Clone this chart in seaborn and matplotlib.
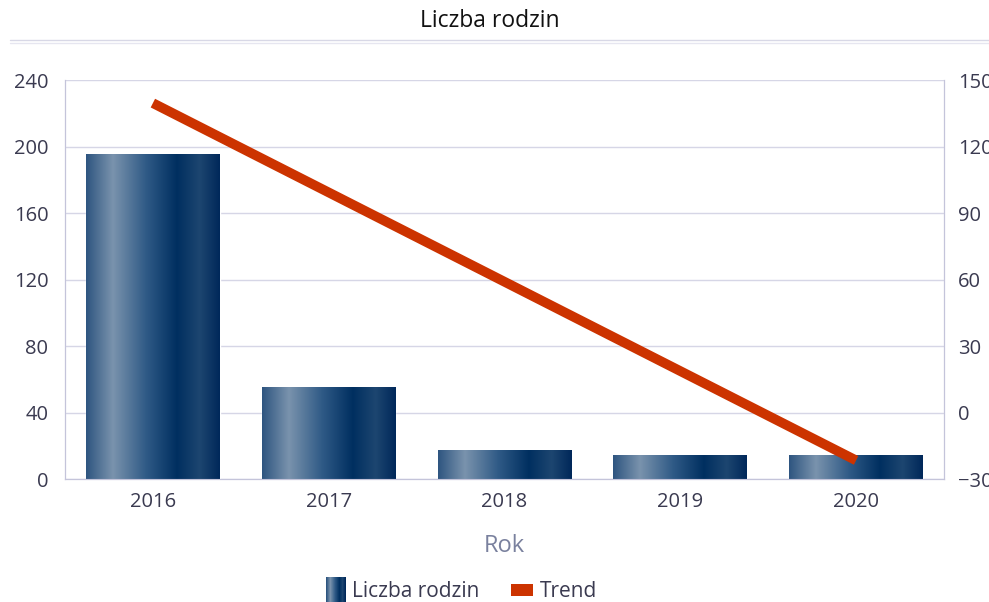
import numpy as np
import pandas as pd
import matplotlib
matplotlib.use("Agg")
import matplotlib.pyplot as plt
import seaborn as sns
from matplotlib.colors import LinearSegmentedColormap
from matplotlib.lines import Line2D
from matplotlib.patches import Patch, Rectangle
from matplotlib.legend_handler import HandlerBase

# dane
lata = ["2016", "2017", "2018", "2019", "2020"]
liczba_rodzin = [195, 55, 17, 14, 14]
trend = [139.6, 99.3, 59.0, 18.7, -21.6]

df = pd.DataFrame({"Rok": lata, "Liczba rodzin": liczba_rodzin, "Trend": trend})

sns.set_style("white")
plt.rcParams["font.family"] = ["Open Sans", "DejaVu Sans"]

cmap = LinearSegmentedColormap.from_list(
    "bar", [(0.0, "#2e5580"), (0.2, "#7a93ad"), (0.45, "#2f5a86"),
            (0.68, "#002f60"), (0.85, "#1d4670"), (1.0, "#00285a")])


class HandlerGradient(HandlerBase):
    # gradientowy kwadrat w legendzie
    def create_artists(self, legend, orig_handle, xdescent, ydescent,
                       width, height, fontsize, trans):
        n = 20
        w = width * 0.85
        h = height * 1.5
        x0 = -xdescent + (width - w)
        y0 = -ydescent - (h - height) / 2
        arts = []
        for i in range(n):
            r = Rectangle((x0 + w * i / n, y0), w / n + 0.3, h,
                          facecolor=cmap(i / (n - 1)), edgecolor="none",
                          transform=trans)
            arts.append(r)
        return arts


class HandlerBox(HandlerBase):
    def create_artists(self, legend, orig_handle, xdescent, ydescent,
                       width, height, fontsize, trans):
        h = height * 0.7
        r = Rectangle((-xdescent, -ydescent + (height - h) / 2), width, h,
                      facecolor="#cc3300", edgecolor="none", transform=trans)
        return [r]


fig = plt.figure(figsize=(9.89, 6.02), dpi=100)
ax = fig.add_axes([0.0657, 0.2043, 0.8888, 0.6627])

sns.barplot(data=df, x="Rok", y="Liczba rodzin", ax=ax, width=0.76,
            color="#1f4a75", saturation=1, zorder=2)

# gradient na slupkach
grad = np.linspace(0, 1, 256).reshape(1, -1)
for p in ax.patches:
    x0, y0 = p.get_x(), p.get_y()
    w, h = p.get_width(), p.get_height()
    ax.imshow(grad, cmap=cmap, aspect="auto", extent=[x0, x0 + w, y0, y0 + h],
              zorder=3, interpolation="bilinear")
    p.set_facecolor("none")
ax.set_xlim(-0.5, 4.5)
ax.set_ylim(0, 240)
ax.set_yticks(range(0, 241, 40))
ax.yaxis.grid(True, color="#d6d6e6", linewidth=1)
ax.set_axisbelow(True)

ax2 = ax.twinx()
sns.lineplot(data=df, x="Rok", y="Trend", ax=ax2, color="#cc3300",
             linewidth=7, solid_capstyle="butt", zorder=5)
ax2.set_ylim(-30, 150)
ax2.set_yticks(range(-30, 151, 30))
ax2.set_ylabel("")

for a in (ax, ax2):
    for s in a.spines.values():
        s.set_color("#c4c4da")
    a.spines["top"].set_visible(False)
    a.tick_params(length=0, labelsize=14.5, colors="#3a3a50")
ax2.tick_params(axis="y", pad=10)
ax.tick_params(axis="y", pad=12)
ax.tick_params(axis="x", pad=9)
ax.set_ylabel("")
ax.set_xlabel("Rok", fontsize=17, color="#7a819e", labelpad=16)

fig.text(0.495, 0.965, "Liczba rodzin", ha="center", va="center",
         fontsize=16.5, color="#111111")
fig.add_artist(Line2D([0.01, 1.0], [0.933, 0.933], color="#d8d8e6", lw=1))
fig.add_artist(Line2D([0.01, 1.0], [0.929, 0.929], color="#e6e6f0", lw=1))

h_bar = Patch(facecolor="#1f4a75")
h_trend = Patch(facecolor="#cc3300")
fig.legend([h_bar, h_trend], ["Liczba rodzin", "Trend"], loc="center",
           bbox_to_anchor=(0.465, 0.017), ncol=2, frameon=False,
           fontsize=15, handlelength=1.1, handleheight=0.9,
           handletextpad=0.3, columnspacing=1.5, labelcolor="#3a3a50",
           handler_map={h_bar: HandlerGradient(), h_trend: HandlerBox()})

fig.savefig("out.png", dpi=100)
